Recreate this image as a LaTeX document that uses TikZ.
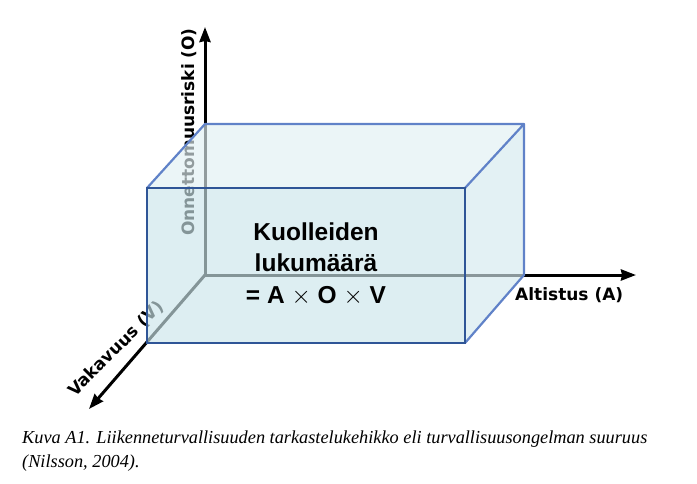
\documentclass[tikz,border=0pt]{standalone}
\usepackage{fontspec}
\setmainfont{Liberation Serif}
\newfontfamily\axisfont{DejaVu Sans}
\newfontfamily\boxfont{Liberation Sans}
\usetikzlibrary{arrows.meta, positioning, calc}
\definecolor{frontblue}{RGB}{47, 85, 151}
\definecolor{edgeblue}{RGB}{96, 130, 200}
\definecolor{frontface}{RGB}{203, 229, 235}
\definecolor{topface}{RGB}{225, 240, 243}
\definecolor{sideface}{RGB}{212, 233, 238}

\tikzset{
  axis/.style={line width=3pt, black, -{Stealth[length=15pt, width=11pt, inset=1pt]}},
  axislabel/.style={font=\axisfont\bfseries\fontsize{17}{20}\selectfont, inner sep=0pt},
  face/.style={fill opacity=0.65},
  backedge/.style={edgeblue, line width=2.2pt, line join=round},
  frontedge/.style={frontblue, line width=2.6pt}
}

\begin{document}
\begin{tikzpicture}[x=1pt, y=-1pt]
  \useasboundingbox (0,0) rectangle (697,483);

  \coordinate (orig) at (205,275);
  \coordinate (otip) at (205,27);
  \coordinate (atip) at (636,275);
  \coordinate (vtip) at (89,409);

  \draw[axis] (orig) -- (otip);
  \draw[axis] (orig) -- (atip);
  \draw[axis] (orig) -- (vtip);

  \node[axislabel, rotate=90] (olabel) at (189,132) {Onnettomuusriski (O)};
  \node[axislabel, rotate=45] (vlabel) at (116,349) {Vakavuus (V)};

  \coordinate (fbl) at (147,343);
  \coordinate (fbr) at (465,343);
  \coordinate (ftr) at (465,188);
  \coordinate (ftl) at (147,188);
  \coordinate (btl) at (205,124);
  \coordinate (btr) at (524,124);
  \coordinate (bbr) at (524,275);

  \fill[topface, face] (ftl) -- (btl) -- (btr) -- (ftr) -- cycle;
  \fill[sideface, face] (ftr) -- (btr) -- (bbr) -- (fbr) -- cycle;
  \fill[frontface, face] (fbl) rectangle (ftr);
  \draw[backedge] (ftl) -- (btl) -- (btr) -- (ftr);
  \draw[backedge] (btr) -- (bbr) -- (fbr);
  \draw[frontedge] (fbl) rectangle (ftr);

  \node[font=\boxfont\bfseries\fontsize{24.5}{31.5}\selectfont, align=center] (count) at (316,264)
    {Kuolleiden\\lukumäärä\\= A {\mdseries$\times$} O {\mdseries$\times$} V};
  \node[axislabel, anchor=north west] (alabel) at (515,287) {Altistus (A)};

  \node[font=\itshape\fontsize{18.3}{24}\selectfont, align=left, anchor=base west, inner sep=0pt] (caption) at (22,467)
    {Kuva A1. Liikenneturvallisuuden tarkastelukehikko eli turvallisuusongelman suuruus\\(Nilsson, 2004).};
\end{tikzpicture}
\end{document}
